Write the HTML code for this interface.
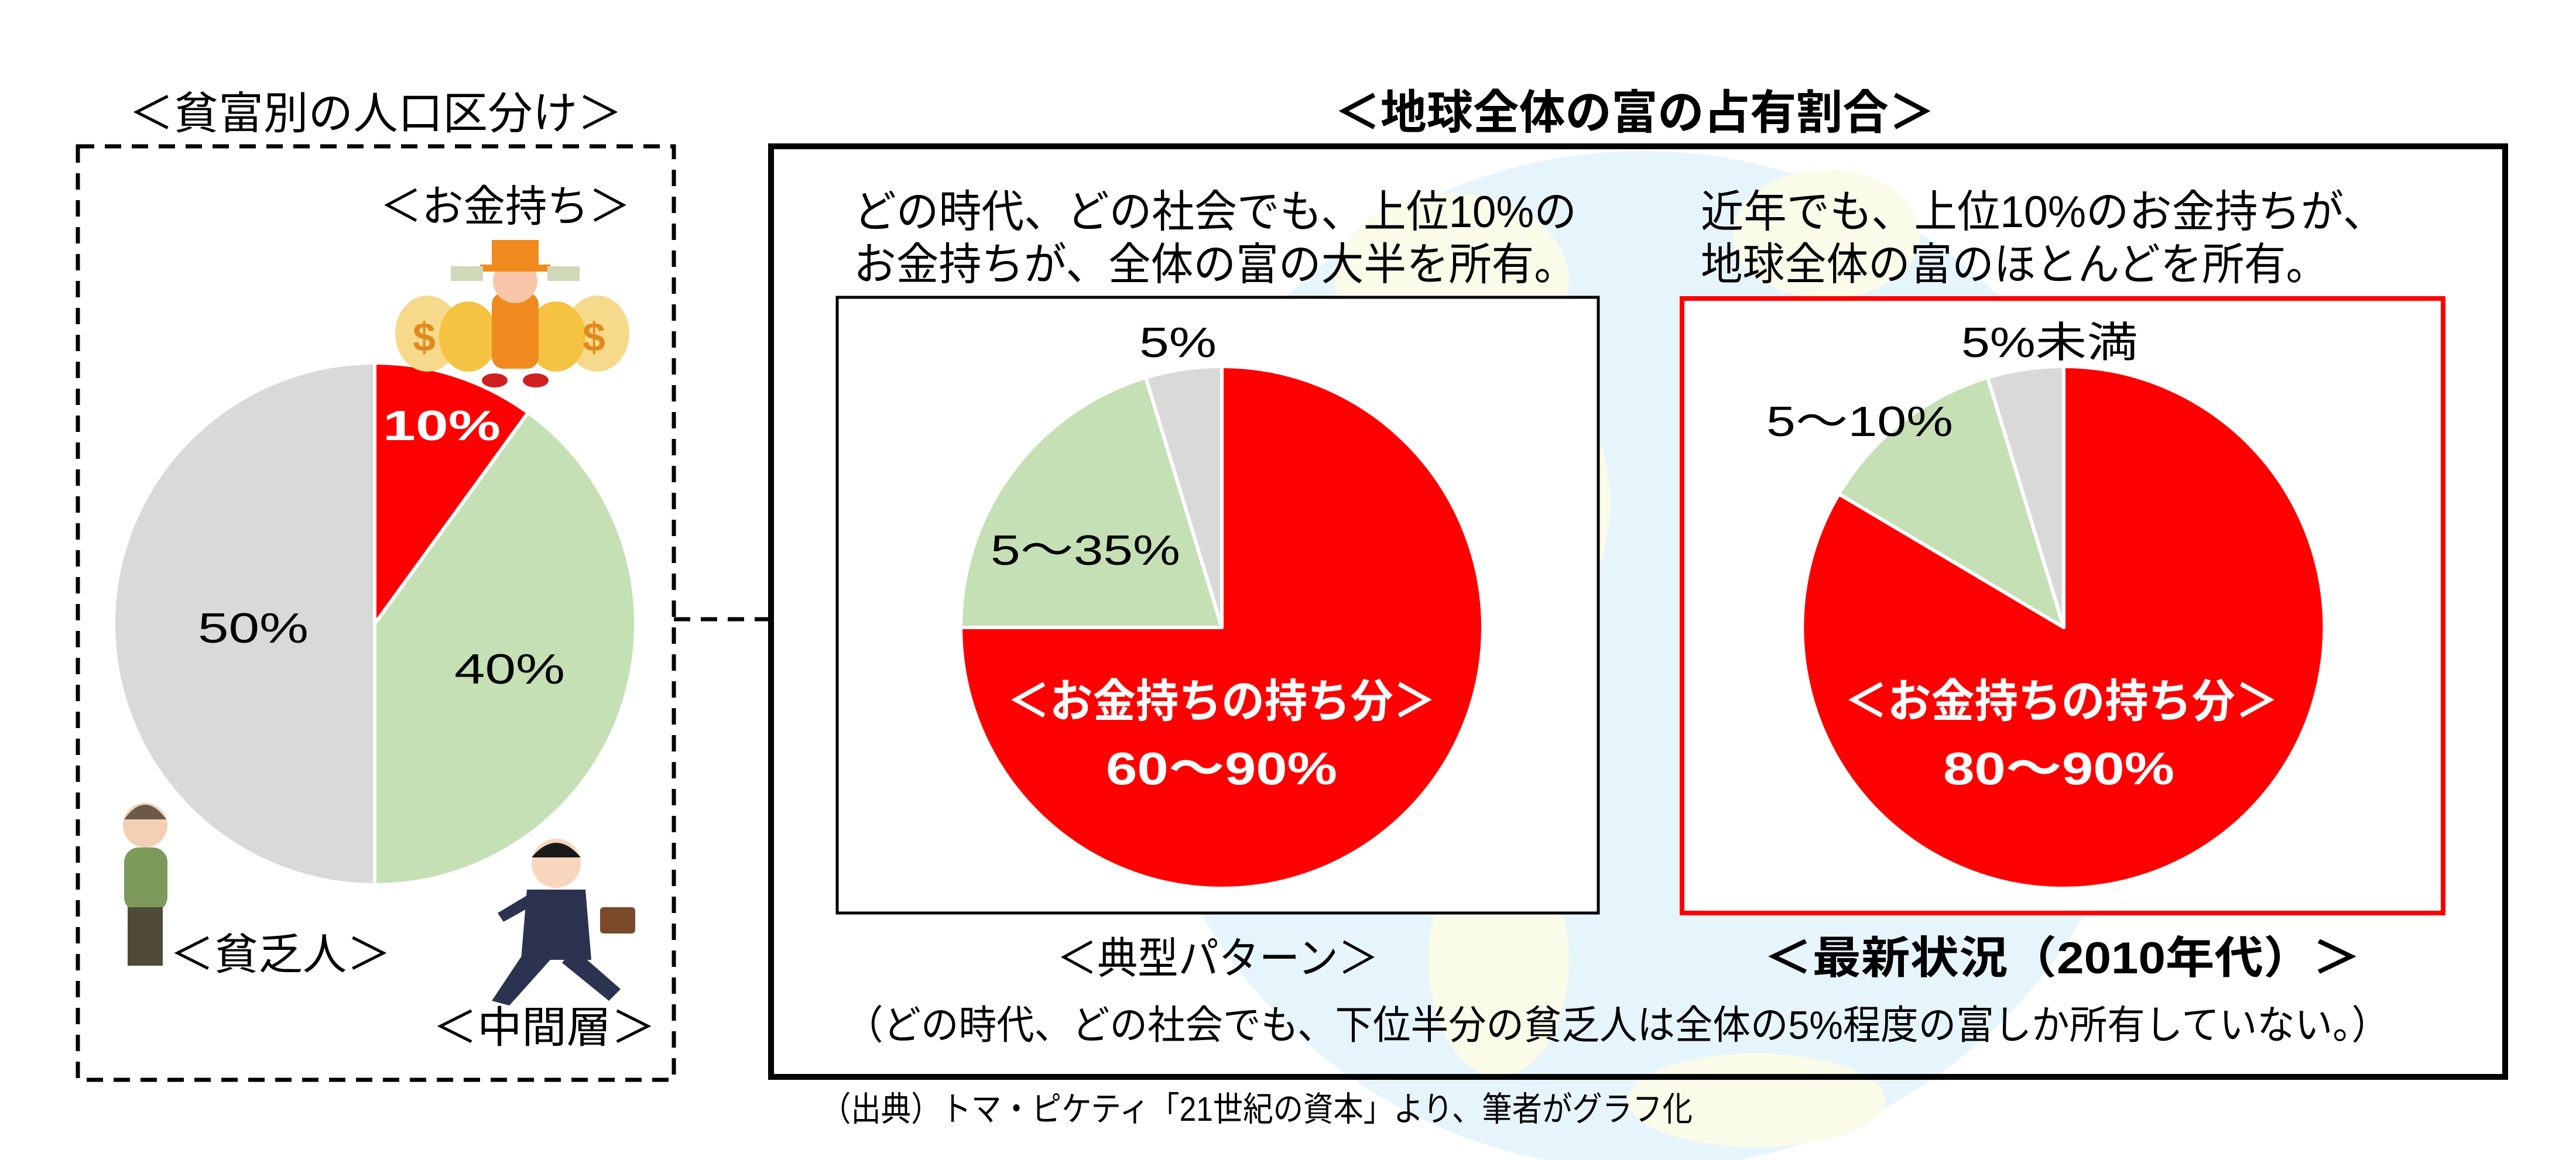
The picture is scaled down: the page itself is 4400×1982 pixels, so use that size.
<!DOCTYPE html>
<html><head><meta charset="utf-8"><style>
html,body{margin:0;padding:0;background:#fff;}
svg{display:block;}
text{font-family:"Liberation Sans","Noto Sans CJK JP",sans-serif;}
</style></head><body>
<svg width="4400" height="1982" viewBox="0 0 4400 1982" xmlns="http://www.w3.org/2000/svg">
<rect width="4400" height="1982" fill="#fff"/>
<!-- globe background -->
<circle cx="2806" cy="1128" r="870" fill="#e6f5fc"/>
<ellipse cx="2480" cy="480" rx="200" ry="150" fill="#fafbe9"/>
<ellipse cx="2660" cy="860" rx="90" ry="180" fill="#fafbe9"/>
<ellipse cx="3120" cy="400" rx="160" ry="110" fill="#fafbe9"/>
<ellipse cx="2560" cy="1640" rx="120" ry="200" fill="#fafbe9"/>
<ellipse cx="2950" cy="1280" rx="35" ry="50" fill="#fafbe9"/>
<ellipse cx="3000" cy="1880" rx="220" ry="80" fill="#fafbe9"/>

<!-- left dashed box -->
<rect x="133" y="250" width="1018" height="1595" fill="none" stroke="#000" stroke-width="7" stroke-dasharray="28,18"/>
<line x1="1151" y1="1058" x2="1317" y2="1058" stroke="#000" stroke-width="7" stroke-dasharray="28,18"/>

<!-- right big box -->
<rect x="1317" y="250" width="2962" height="1590" fill="none" stroke="#000" stroke-width="10"/>
<rect x="1430" y="508" width="1300" height="1052" fill="#fff" stroke="#000" stroke-width="5"/>
<rect x="2873" y="510" width="1300" height="1050" fill="#fff" stroke="#ff0000" stroke-width="8"/>

<!-- titles -->
<text x="220" y="220" font-size="76" textLength="843" lengthAdjust="spacingAndGlyphs">＜貧富別の人口区分け＞</text>
<text x="2279" y="220" font-size="80" font-weight="bold" textLength="1026" lengthAdjust="spacingAndGlyphs">＜地球全体の富の占有割合＞</text>

<!-- left pie -->
<g stroke="#fff" stroke-width="6" stroke-linejoin="round">
<path d="M640,1066 L640,620 A446,446 0 0 1 902,705 Z" fill="#ff0000"/>
<path d="M640,1066 L902,705 A446,446 0 0 1 640,1512 Z" fill="#c5e0b4"/>
<path d="M640,1066 L640,1512 A446,446 0 0 1 640,620 Z" fill="#d9d9d9"/>
</g>
<text x="654" y="752" font-size="72" font-weight="bold" fill="#fff" textLength="201" lengthAdjust="spacingAndGlyphs">10%</text>
<text x="338" y="1098" font-size="72" textLength="189" lengthAdjust="spacingAndGlyphs">50%</text>
<text x="776" y="1168" font-size="72" textLength="189" lengthAdjust="spacingAndGlyphs">40%</text>
<text x="649" y="378" font-size="74" textLength="428" lengthAdjust="spacingAndGlyphs">＜お金持ち＞</text>
<text x="290" y="1656" font-size="74" textLength="378" lengthAdjust="spacingAndGlyphs">＜貧乏人＞</text>
<text x="739" y="1781" font-size="74" textLength="381" lengthAdjust="spacingAndGlyphs">＜中間層＞</text>

<!-- rich man illustration -->
<g>
<ellipse cx="730" cy="570" rx="55" ry="65" fill="#f6d98a"/>
<ellipse cx="1020" cy="570" rx="55" ry="65" fill="#f6d98a"/>
<ellipse cx="800" cy="575" rx="50" ry="60" fill="#f5c242"/>
<ellipse cx="950" cy="575" rx="50" ry="60" fill="#f5c242"/>
<text x="705" y="600" font-size="70" font-weight="bold" fill="#e08a1e">$</text>
<text x="995" y="600" font-size="70" font-weight="bold" fill="#e08a1e">$</text>
<rect x="840" y="500" width="80" height="130" rx="20" fill="#f08a1e"/>
<circle cx="880" cy="480" r="38" fill="#f7c6a8"/>
<rect x="840" y="410" width="80" height="50" fill="#f08a1e"/>
<rect x="820" y="452" width="120" height="12" fill="#f08a1e"/>
<rect x="770" y="455" width="55" height="25" fill="#cfd8b8"/>
<rect x="935" y="455" width="55" height="25" fill="#cfd8b8"/>
<ellipse cx="845" cy="650" rx="22" ry="12" fill="#d02020"/>
<ellipse cx="915" cy="650" rx="22" ry="12" fill="#d02020"/>
</g>
<!-- poor man -->
<g>
<circle cx="248" cy="1410" r="38" fill="#f3cfb3"/>
<path d="M212,1400 Q248,1350 284,1400 Z" fill="#6b5a48"/>
<rect x="212" y="1448" width="74" height="110" rx="25" fill="#7d9a5a"/>
<rect x="218" y="1550" width="60" height="100" fill="#4f4a3a"/>
</g>
<!-- businessman -->
<g>
<circle cx="950" cy="1475" r="42" fill="#f7d6bd"/>
<path d="M908,1465 Q950,1415 992,1465 Z" fill="#1a1a1a"/>
<path d="M900,1520 L1000,1520 L1010,1640 L890,1640 Z" fill="#2b3350"/>
<path d="M900,1620 L840,1710 L870,1718 L940,1640 Z" fill="#2b3350"/>
<path d="M980,1620 L1060,1690 L1040,1710 L960,1645 Z" fill="#2b3350"/>
<rect x="1025" y="1550" width="60" height="45" rx="6" fill="#7a4a2a"/>
<path d="M900,1530 L850,1560 L860,1575 L905,1550 Z" fill="#2b3350"/>
</g>

<!-- right texts -->
<text x="1458" y="388" font-size="76" textLength="1235" lengthAdjust="spacingAndGlyphs">どの時代、どの社会でも、上位10%の</text>
<text x="1458" y="478" font-size="76" textLength="1235" lengthAdjust="spacingAndGlyphs">お金持ちが、全体の富の大半を所有。</text>
<text x="2905" y="388" font-size="76" textLength="1170" lengthAdjust="spacingAndGlyphs">近年でも、上位10%のお金持ちが、</text>
<text x="2905" y="478" font-size="76" textLength="1071" lengthAdjust="spacingAndGlyphs">地球全体の富のほとんどを所有。</text>

<!-- pie 1 -->
<g stroke="#fff" stroke-width="6" stroke-linejoin="round">
<path d="M2087,1072 L2087,626 A446,446 0 1 1 1641,1072 Z" fill="#ff0000"/>
<path d="M2087,1072 L1641,1072 A446,446 0 0 1 1957,645 Z" fill="#c5e0b4"/>
<path d="M2087,1072 L1957,645 A446,446 0 0 1 2087,626 Z" fill="#d9d9d9"/>
</g>
<text x="1946" y="610" font-size="72" textLength="132" lengthAdjust="spacingAndGlyphs">5%</text>
<text x="1692" y="965" font-size="72" textLength="324" lengthAdjust="spacingAndGlyphs">5〜35%</text>
<text x="1720" y="1225" font-size="78" font-weight="bold" fill="#fff" textLength="733" lengthAdjust="spacingAndGlyphs">＜お金持ちの持ち分＞</text>
<text x="1889" y="1340" font-size="78" font-weight="bold" fill="#fff" textLength="395" lengthAdjust="spacingAndGlyphs">60〜90%</text>
<text x="1805" y="1663" font-size="74" textLength="550" lengthAdjust="spacingAndGlyphs">＜典型パターン＞</text>

<!-- pie 2 -->
<g stroke="#fff" stroke-width="6" stroke-linejoin="round">
<path d="M3525,1072 L3525,626 A446,446 0 1 1 3141,844 Z" fill="#ff0000"/>
<path d="M3525,1072 L3141,844 A446,446 0 0 1 3395,645 Z" fill="#c5e0b4"/>
<path d="M3525,1072 L3395,645 A446,446 0 0 1 3525,626 Z" fill="#d9d9d9"/>
</g>
<text x="3350" y="610" font-size="72" textLength="302" lengthAdjust="spacingAndGlyphs">5%未満</text>
<text x="3017" y="745" font-size="72" textLength="319" lengthAdjust="spacingAndGlyphs">5〜10%</text>
<text x="3150" y="1225" font-size="78" font-weight="bold" fill="#fff" textLength="742" lengthAdjust="spacingAndGlyphs">＜お金持ちの持ち分＞</text>
<text x="3319" y="1340" font-size="78" font-weight="bold" fill="#fff" textLength="395" lengthAdjust="spacingAndGlyphs">80〜90%</text>
<text x="3012" y="1663" font-size="76" font-weight="bold" textLength="1021" lengthAdjust="spacingAndGlyphs">＜最新状況（2010年代）＞</text>

<text x="1444" y="1775" font-size="68" textLength="2637" lengthAdjust="spacingAndGlyphs">（どの時代、どの社会でも、下位半分の貧乏人は全体の5%程度の富しか所有していない。）</text>
<text x="1402" y="1915" font-size="58" textLength="1489" lengthAdjust="spacingAndGlyphs">（出典）トマ・ピケティ「21世紀の資本」より、筆者がグラフ化</text>
</svg>
</body></html>
